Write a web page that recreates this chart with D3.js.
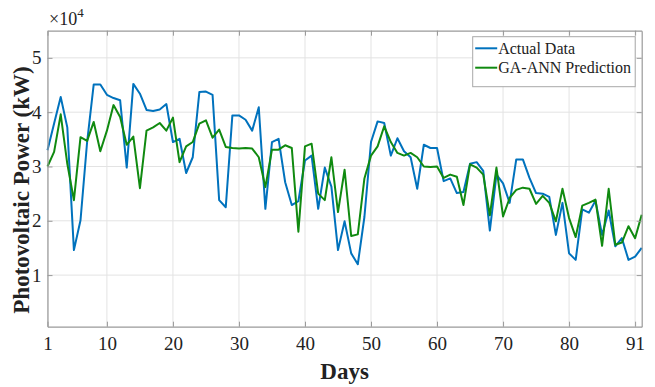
<!DOCTYPE html>
<html>
<head>
<meta charset="utf-8">
<script src="https://cdn.jsdelivr.net/npm/d3@7"></script>
<style>
  html, body { margin: 0; padding: 0; background: #fff; }
  svg { display: block; }
  text { font-family: "Liberation Serif", "Times New Roman", serif; fill: #222; }
</style>
</head>
<body>
<svg id="chart" width="655" height="387"></svg>
<script>
// Daily photovoltaic output (kW) over the 91-day test window
const days = d3.range(1, 92);

const actualData = [
  33000, 37900, 42800, 37200, 14600, 20100, 34500, 45100, 45100, 43200,
  42600, 42200, 29800, 45200, 43400, 40400, 40200, 40500, 41500, 34500,
  35100, 28800, 31700, 43700, 43800, 43200, 23800, 22500, 39400, 39400,
  38600, 36600, 40900, 22200, 34500, 35100, 27100, 22900, 23600, 31100,
  32000, 22200, 29800, 26300, 14600, 19900, 14000, 12000, 20700, 34500,
  38300, 38000, 32000, 35200, 32800, 31700, 25900, 34000, 33400, 33400,
  27300, 27800, 25100, 25300, 30500, 30800, 29200, 18200, 28500, 26900,
  23300, 31300, 31300, 27900, 25100, 25000, 24400, 17400, 23300, 14000,
  12800, 22100, 21500, 23700, 17400, 21900, 15300, 16800, 12800, 13400,
  15000
];

const predictedData = [
  30000, 32700, 39600, 30500, 23800, 35400, 34700, 38200, 32800, 36600,
  41300, 39100, 34000, 35500, 26000, 36600, 37200, 38000, 36600, 39000,
  30800, 33700, 34500, 37900, 38500, 35300, 36800, 33600, 33400, 33300,
  33400, 33300, 31700, 26200, 33100, 33100, 33900, 33400, 18000, 33700,
  34200, 25000, 23800, 31700, 21600, 29400, 17200, 17500, 27800, 32000,
  33700, 37400, 34500, 32500, 32000, 32500, 31700, 30000, 29900, 30000,
  27900, 28500, 28100, 22900, 30400, 29800, 28500, 21000, 29800, 20800,
  24200, 25700, 26100, 25900, 23100, 24600, 23300, 19900, 25900, 20500,
  17000, 22800, 23300, 23900, 15400, 25900, 15600, 16000, 19000, 16800,
  21100
];

const seriesNames = ["Actual Data", "GA-ANN Prediction"];
const seriesColors = ["#0072BD", "#108a10"];

const xTickValues = [1, 10, 20, 30, 40, 50, 60, 70, 80, 90];
const xTickLabels = ["1", "10", "20", "30", "40", "50", "60", "70", "80", "91"];
const yTickValues = [10000, 20000, 30000, 40000, 50000];
const yTickLabels = ["1", "2", "3", "4", "5"];

const xLabel = "Days";
const yLabel = "Photovoltaic Power (kW)";

// Layout
const margin = { left: 47.5, right: 13.3, top: 30.7, bottom: 60.3 };
const W = 655, H = 387;
const innerW = W - margin.left - margin.right;
const innerH = H - margin.top - margin.bottom;

const svg = d3.select("#chart");
const g = svg.append("g").attr("transform", `translate(${margin.left},${margin.top})`);

const x = d3.scaleLinear().domain([1, 91]).range([0, innerW]);
const y = d3.scaleLinear().domain([500, 55000]).range([innerH, 0]);

// Grid
g.append("g").attr("class", "grid-x")
  .selectAll("line").data(xTickValues).join("line")
  .attr("x1", d => x(d)).attr("x2", d => x(d))
  .attr("y1", 0).attr("y2", innerH)
  .attr("stroke", "#e3e3e3").attr("stroke-width", 1);

g.append("g").attr("class", "grid-y")
  .selectAll("line").data(yTickValues).join("line")
  .attr("x1", 0).attr("x2", innerW)
  .attr("y1", d => y(d)).attr("y2", d => y(d))
  .attr("stroke", "#e3e3e3").attr("stroke-width", 1);

// Series lines
const line = d3.line().x((d, i) => x(days[i])).y(d => y(d));
[actualData, predictedData].forEach((series, k) => {
  g.append("path")
    .datum(series)
    .attr("d", line)
    .attr("fill", "none")
    .attr("stroke", seriesColors[k])
    .attr("stroke-width", 2)
    .attr("stroke-linejoin", "round");
});

// Axes (ticks drawn inward, box closed on all sides)
const axisColor = "#9a9a9a";
const tickLen = 5;

const xAxis = d3.axisBottom(x).tickValues(xTickValues)
  .tickFormat((d, i) => xTickLabels[i]).tickSizeInner(-tickLen).tickSizeOuter(0).tickPadding(10);
const yAxis = d3.axisLeft(y).tickValues(yTickValues)
  .tickFormat((d, i) => yTickLabels[i]).tickSizeInner(-tickLen).tickSizeOuter(0).tickPadding(6);
const xAxisTop = d3.axisTop(x).tickValues(xTickValues).tickFormat("").tickSizeInner(-tickLen).tickSizeOuter(0);
const yAxisRight = d3.axisRight(y).tickValues(yTickValues).tickFormat("").tickSizeInner(-tickLen).tickSizeOuter(0);

function styleAxis(sel) {
  sel.select(".domain").attr("stroke", axisColor).attr("stroke-width", 1.2);
  sel.selectAll(".tick line").attr("stroke", axisColor);
  sel.selectAll(".tick text")
    .style("font-family", '"Liberation Serif", "Times New Roman", serif')
    .style("font-size", "19px").attr("fill", "#222");
}

g.append("g").attr("transform", `translate(0,${innerH})`).call(xAxis).call(styleAxis);
g.append("g").call(yAxis).call(styleAxis);
g.append("g").call(xAxisTop).call(styleAxis);
g.append("g").attr("transform", `translate(${innerW},0)`).call(yAxisRight).call(styleAxis);

// Exponent marker above the y axis
const expo = svg.append("text").attr("x", 49).attr("y", 25)
  .style("font-size", "18px");
expo.append("tspan").text("\u00d710");
expo.append("tspan").attr("dy", -8).style("font-size", "13px").text("4");

// Axis titles
svg.append("text")
  .attr("x", margin.left + innerW / 2).attr("y", 379)
  .attr("text-anchor", "middle")
  .style("font-size", "23px").style("font-weight", "bold")
  .text(xLabel);

svg.append("text")
  .attr("transform", "translate(29,190) rotate(-90)")
  .attr("text-anchor", "middle")
  .style("font-size", "23px").style("font-weight", "bold")
  .text(yLabel);

// Legend
const legend = svg.append("g").attr("transform", "translate(472.7,36.7)");
legend.append("rect")
  .attr("width", 162.5).attr("height", 50)
  .attr("fill", "#fff").attr("stroke", "#a8a8a8").attr("stroke-width", 1);
seriesNames.forEach((name, k) => {
  const row = legend.append("g").attr("transform", `translate(0,${11.6 + k * 19.4})`);
  row.append("line").attr("x1", 2.5).attr("x2", 24.5)
    .attr("stroke", seriesColors[k]).attr("stroke-width", 2);
  row.append("text").attr("x", 25.5).attr("y", 5.5)
    .style("font-size", "16px").text(name);
});
</script>
</body>
</html>
